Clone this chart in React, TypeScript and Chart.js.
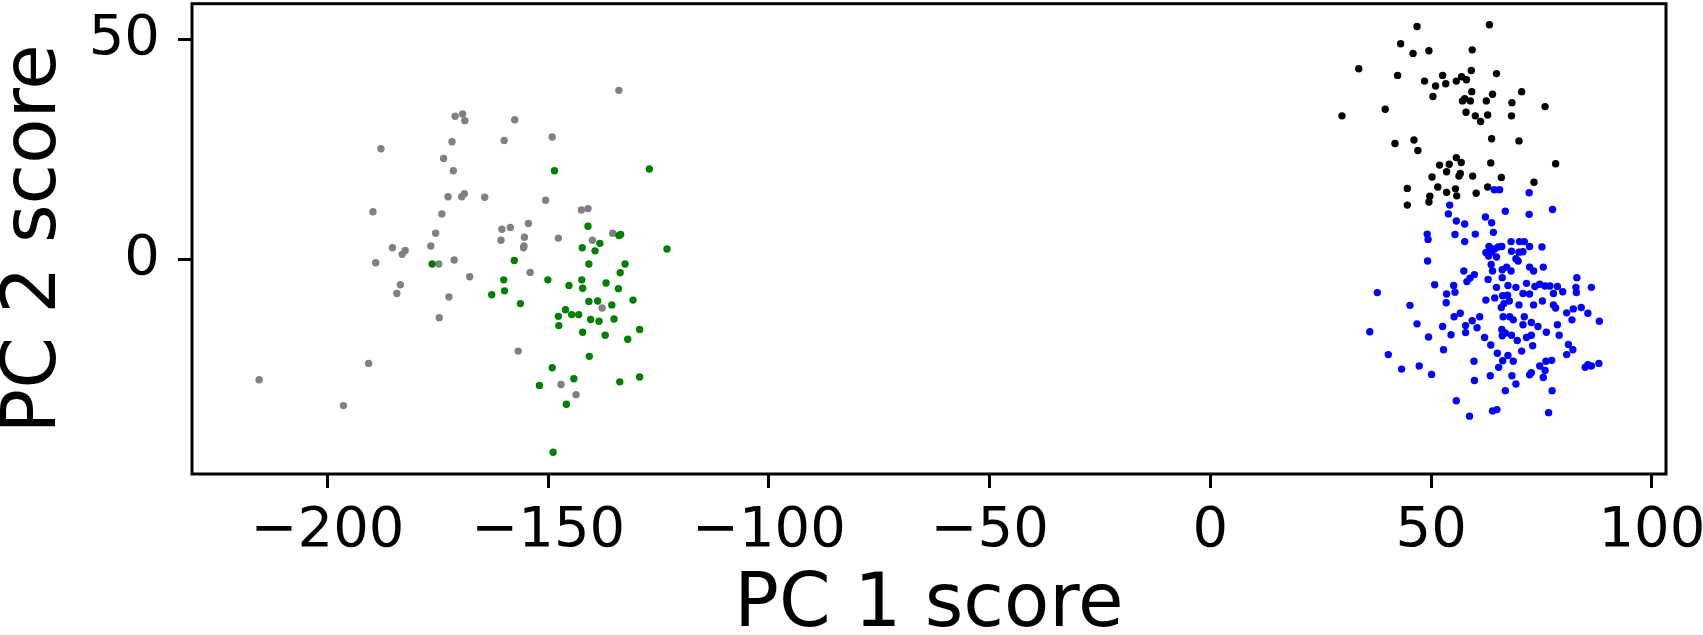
import React, { useEffect, useRef } from "react";
import { Chart, registerables } from "chart.js";

Chart.register(...registerables);

// Group 1 (grey)
const greyX = [-171.1, -169.4, -168.9, -157.6, -187.9, -171.8, -160.0, -173.7, -171.5, -172.7, -169.6, -169.0, -164.4, -189.7, -174.1, -175.5, -185.3, -183.1, -182.4, -189.1, -176.6, -174.8, -171.3, -167.8, -183.5, -184.3, -172.5, -174.7, -156.8, -190.7, -215.5, -196.4, -160.5, -158.6, -154.5, -155.4, -155.5, -155.6, -160.7, -154.1, -149.1, -150.6, -142.5, -141.0, -147.7, -140.0, -135.4, -137.8, -147.1, -143.7, -134.0];
const greyY = [32.6, 33.1, 31.6, 31.8, 25.2, 26.8, 27.1, 23.0, 20.2, 14.3, 14.3, 15.0, 14.2, 10.9, 10.4, 6.0, 2.7, 1.2, 2.1, -0.7, 3.1, -1.0, -0.1, -3.9, -5.7, -7.7, -8.5, -13.2, -20.8, -23.6, -27.3, -33.2, 6.9, 7.3, 8.2, 5.1, 3.1, 2.7, 4.4, -2.9, 27.9, 13.5, 11.3, 11.6, 4.9, 4.4, 6.0, -11.0, -28.4, -30.7, 38.5];

// Group 2 (green)
const greenX = [-176.3, -157.7, -160.1, -159.9, -162.8, -156.3, -148.6, -127.1, -141.0, -134.0, -133.6, -142.3, -138.3, -139.4, -123.1, -140.8, -132.6, -133.7, -150.1, -142.4, -145.3, -142.2, -136.9, -134.1, -140.8, -138.8, -135.6, -130.8, -146.1, -144.7, -143.1, -147.7, -147.6, -140.4, -138.5, -135.1, -142.2, -137.1, -132.0, -129.3, -140.7, -149.1, -144.2, -152.0, -133.8, -129.3, -145.9, -148.9];
const greenY = [-1.0, -0.2, -4.6, -7.1, -8.0, -10.0, 20.2, 20.6, 7.6, 5.5, 5.7, 2.7, 3.7, 2.0, 2.4, -1.0, -1.0, -3.0, -4.6, -4.6, -5.9, -6.5, -5.3, -6.6, -9.5, -9.4, -10.3, -9.2, -11.4, -12.5, -12.5, -12.9, -15.0, -13.6, -14.0, -13.5, -16.5, -17.2, -18.1, -15.9, -22.0, -24.6, -27.1, -28.6, -27.8, -26.7, -32.9, -43.8];

// Group 3 (black)
const blackX = [46.8, 63.2, 43.1, 45.9, 49.5, 59.3, 33.6, 42.4, 52.6, 56.9, 59.1, 64.8, 48.5, 51.0, 53.3, 55.7, 58.0, 50.4, 59.2, 63.9, 70.5, 57.1, 57.6, 58.9, 62.5, 68.3, 75.8, 29.8, 39.6, 57.9, 60.0, 61.2, 62.8, 68.2, 41.8, 46.1, 47.0, 63.7, 69.9, 55.7, 51.9, 54.1, 56.8, 53.5, 63.5, 78.2, 50.2, 56.6, 56.3, 59.4, 65.9, 73.3, 44.6, 51.5, 62.8, 53.5, 55.5, 55.8, 60.2, 49.7, 49.5, 44.6];
const blackY = [53.0, 53.4, 49.1, 46.9, 47.5, 47.7, 43.4, 41.9, 41.9, 41.6, 43.0, 42.3, 40.6, 39.5, 40.0, 40.6, 40.9, 37.1, 38.2, 37.6, 38.2, 36.1, 36.6, 36.1, 36.1, 35.7, 34.8, 32.7, 34.2, 33.5, 32.7, 31.4, 32.9, 32.7, 26.4, 27.2, 24.8, 27.5, 27.0, 23.2, 21.5, 21.7, 22.1, 20.0, 22.0, 21.8, 18.8, 19.6, 19.0, 19.0, 18.7, 17.6, 16.2, 16.5, 16.5, 15.3, 16.1, 14.5, 15.1, 14.4, 13.1, 12.4];

// Group 4 (blue)
const blueX = [64.3, 65.5, 72.2, 54.2, 77.5, 66.8, 53.9, 72.2, 62.3, 55.7, 57.6, 63.7, 64.1, 49.1, 49.3, 55.4, 60.0, 57.6, 68.1, 70.0, 71.1, 63.1, 66.0, 72.3, 75.1, 65.2, 64.4, 62.4, 63.7, 63.0, 68.2, 69.9, 70.8, 64.8, 69.2, 69.7, 49.2, 63.6, 67.1, 72.3, 75.4, 63.9, 66.1, 68.1, 73.2, 57.4, 59.8, 58.8, 58.1, 62.9, 66.1, 83.0, 37.8, 50.8, 55.1, 53.5, 55.4, 64.8, 67.4, 69.2, 71.6, 74.6, 73.5, 75.8, 76.9, 78.6, 79.8, 82.8, 82.9, 86.3, 70.8, 72.3, 77.7, 62.4, 64.4, 66.2, 67.3, 67.7, 66.5, 45.2, 53.4, 75.2, 69.9, 65.9, 73.2, 77.7, 78.2, 84.0, 82.2, 80.7, 81.9, 85.5, 88.1, 55.2, 56.6, 61.0, 59.3, 57.8, 60.4, 66.3, 67.8, 68.6, 71.1, 70.8, 72.7, 74.2, 36.1, 46.8, 52.6, 66.0, 66.8, 66.1, 68.2, 69.5, 71.6, 72.7, 76.1, 78.6, 79.0, 54.5, 57.8, 49.4, 62.1, 63.5, 65.0, 52.8, 40.3, 70.5, 73.0, 81.1, 82.1, 80.7, 67.4, 66.2, 68.6, 65.3, 59.7, 43.3, 47.3, 50.1, 76.0, 77.3, 74.6, 75.8, 72.7, 72.3, 75.4, 84.9, 86.3, 88.0, 85.5, 63.4, 68.3, 69.2, 59.8, 66.8, 77.4, 55.7, 63.9, 64.9, 76.6, 58.7];
const blueY = [15.9, 15.9, 15.2, 12.4, 11.4, 11.0, 10.4, 10.3, 9.7, 8.8, 8.1, 8.4, 6.2, 5.8, 4.6, 5.7, 5.8, 4.1, 4.1, 4.1, 4.1, 3.0, 3.0, 3.0, 2.9, 2.9, 2.4, 1.6, 1.7, 0.8, 1.9, 1.7, 1.8, 0.6, 0.2, -0.3, -0.3, -1.1, -1.7, -1.7, -1.7, -2.6, -2.3, -2.6, -2.6, -2.6, -3.4, -4.2, -5.0, -4.5, -4.1, -4.1, -7.5, -5.7, -5.9, -7.8, -7.4, -6.3, -5.9, -6.3, -5.4, -5.6, -6.1, -6.0, -6.0, -6.1, -7.3, -6.3, -7.5, -6.3, -7.7, -7.8, -7.7, -9.2, -8.7, -8.2, -8.1, -9.4, -10.0, -10.4, -9.8, -9.4, -10.3, -10.9, -10.3, -10.3, -11.0, -10.9, -11.2, -12.1, -13.7, -12.2, -14.0, -13.0, -12.2, -13.0, -13.9, -15.0, -15.5, -13.0, -13.0, -13.7, -13.0, -14.8, -14.3, -15.2, -16.4, -14.6, -15.2, -15.9, -16.7, -17.3, -17.2, -18.4, -17.7, -17.2, -16.5, -14.8, -17.2, -17.1, -16.6, -17.6, -17.7, -19.4, -21.3, -20.5, -21.6, -20.8, -19.6, -19.3, -20.5, -21.6, -21.8, -23.0, -23.1, -24.5, -23.1, -24.9, -24.2, -26.1, -23.1, -22.9, -24.2, -25.2, -25.7, -26.2, -26.8, -24.5, -24.2, -23.6, -23.9, -26.4, -26.4, -28.3, -27.5, -29.8, -29.8, -32.1, -34.4, -34.1, -34.8, -35.6];

const xTickValues = [-200, -150, -100, -50, 0, 50, 100];
const yTickValues = [0, 50];
const xLabel = "PC 1 score";
const yLabel = "PC 2 score";

const pts = (xs: number[], ys: number[]) => xs.map((x, i) => ({ x, y: ys[i] }));
const fmt = (v: number) => (v < 0 ? "\u2212" + Math.abs(v) : String(v));

const frame = {
  id: "frame",
  afterDraw(chart: any) {
    const { ctx, chartArea } = chart;
    ctx.save();
    ctx.strokeStyle = "#000";
    ctx.lineWidth = 3;
    ctx.strokeRect(chartArea.left, chartArea.top, chartArea.right - chartArea.left, chartArea.bottom - chartArea.top);
    ctx.restore();
  },
};

const zeroPad = (s: any) => {
  s.paddingTop = 0;
  s.paddingBottom = 0;
  s.paddingLeft = 0;
  s.paddingRight = 0;
};

export default function App() {
  const ref = useRef<HTMLCanvasElement | null>(null);
  useEffect(() => {
    if (!ref.current) return;
    const font = "'DejaVu Sans', sans-serif";
    const ds = (xs: number[], ys: number[], color: string) => ({
      data: pts(xs, ys),
      backgroundColor: color,
      borderWidth: 0,
      pointRadius: 3.7,
      pointHoverRadius: 3.7,
    });
    const chart = new Chart(ref.current, {
      type: "scatter",
      data: {
        datasets: [
          ds(blueX, blueY, "#0000ff"),
          ds(blackX, blackY, "#000000"),
          ds(greenX, greenY, "#008000"),
          ds(greyX, greyY, "#808080"),
        ],
      },
      plugins: [frame],
      options: {
        animation: false,
        responsive: true,
        maintainAspectRatio: false,
        layout: { padding: { left: 0, right: 37, top: 2, bottom: 0 } },
        plugins: { legend: { display: false }, tooltip: { enabled: false } },
        scales: {
          x: {
            type: "linear",
            min: -230.7,
            max: 103.2,
            afterBuildTicks: (s: any) => {
              s.ticks = xTickValues.map((v) => ({ value: v }));
            },
            afterFit: (s: any) => {
              s.height = 161;
              zeroPad(s);
            },
            ticks: {
              callback: (v: any) => fmt(Number(v)),
              color: "#000",
              font: { family: font, size: 56 },
              padding: 10,
              maxRotation: 0,
              autoSkip: false,
            },
            grid: { display: true, drawOnChartArea: false, drawTicks: true, tickLength: 14, tickWidth: 3, tickColor: "#000" },
            border: { display: false },
            title: { display: true, text: xLabel, color: "#000", font: { family: font, size: 74 }, padding: { top: 0, bottom: -16 } },
          },
          y: {
            type: "linear",
            min: -48.75,
            max: 58.2,
            afterBuildTicks: (s: any) => {
              s.ticks = yTickValues.map((v) => ({ value: v }));
            },
            afterFit: (s: any) => {
              s.width = 192;
              zeroPad(s);
            },
            ticks: {
              callback: (v: any) => fmt(Number(v)),
              color: "#000",
              font: { family: font, size: 56 },
              padding: 18,
              autoSkip: false,
            },
            grid: { display: true, drawOnChartArea: false, drawTicks: true, tickLength: 14, tickWidth: 3, tickColor: "#000" },
            border: { display: false },
            title: { display: true, text: yLabel, color: "#000", font: { family: font, size: 74 }, padding: { top: -9, bottom: 0 } },
          },
        },
      },
    });
    return () => chart.destroy();
  }, []);
  return (
    <div style={{ position: "fixed", left: 0, top: 0, width: 1703, height: 635, background: "#fff" }}>
      <canvas ref={ref} />
    </div>
  );
}
